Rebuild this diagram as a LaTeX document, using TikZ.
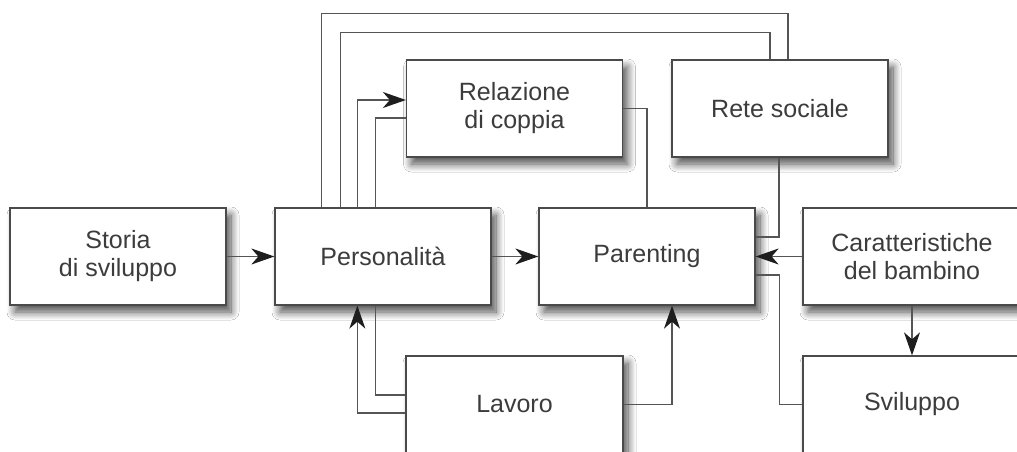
\documentclass[tikz,border=0pt]{standalone}
\usepackage{fontspec}
\setmainfont{Liberation Sans}
\usetikzlibrary{arrows.meta,shadows.blur}
\definecolor{boxline}{HTML}{4A4A4A}
\definecolor{conline}{HTML}{555555}
\definecolor{tipcol}{HTML}{1E1E1E}
\definecolor{txt}{HTML}{3C3C3C}
\begin{document}
\begin{tikzpicture}[x=1pt,y=-1pt,
  box/.style={draw=boxline,line width=1.3pt,fill=white,minimum width=216pt,minimum height=97pt,
    inner sep=0pt,align=center,text=txt,font=\fontsize{25}{28}\selectfont,
    blur shadow={shadow xshift=5pt,shadow yshift=-7pt,shadow blur steps=12,shadow opacity=70,shadow blur radius=8pt}},
  conn/.style={draw=conline,line width=1.1pt},
  arr/.style={conn,-{Stealth[length=23pt,width=16pt,inset=7pt,color=tipcol]}}]
\useasboundingbox (0,0) rectangle (1017,452);
\clip (0,0) rectangle (1017,452);
\fill[white] (0,0) rectangle (1017,452);
\node[box] (storia) at (118,256.5) {Storia\\di sviluppo};
\node[box] (pers) at (383,256.5) {Personalità};
\node[box] (rel) at (514.5,108.5) {Relazione\\di coppia};
\node[box] (rete) at (780,108.5) {Rete sociale};
\node[box] (par) at (647,256.5) {Parenting};
\node[box,minimum width=218pt] (car) at (912,256.5) {Caratteristiche\\del bambino};
\node[box,minimum width=218pt] (svil) at (912,404.5) {Sviluppo};
\node[box,minimum width=217pt] (lav) at (514.5,404.5) {Lavoro};
% top loops to Rete sociale
\draw[conn] ([xshift=47pt]pers.north west) -- ++(0,-194) -| ([xshift=8pt]rete.north);
\draw[conn] ([xshift=66pt]pers.north west) -- ++(0,-175) -| ([xshift=-10pt]rete.north);
% Personalita <-> Relazione
\draw[arr] ([xshift=83pt]pers.north west) |- ([yshift=8.5pt]rel.west);
\draw[conn] ([xshift=101pt]pers.north west) |- ([yshift=-9.5pt]rel.west);
% Relazione -> Parenting
\draw[conn] (rel.east) -| (par.north);
% Rete sociale -> Parenting
\draw[conn] ([xshift=-1pt]rete.south) |- ([yshift=19.5pt]par.east);
% Caratteristiche -> Parenting
\draw[arr] (car.west) -- (par.east);
% Parenting -> Sviluppo
\draw[conn] ([yshift=-18.5pt]par.east) -- ++(24,0) |- (svil.west);
% Caratteristiche -> Sviluppo
\draw[arr] (car.south) -- (svil.north);
% Lavoro -> Parenting
\draw[arr] (lav.east) -| ([xshift=25pt]par.south);
% Lavoro <-> Personalita
\draw[conn] ([yshift=9.5pt]lav.west) -| ([xshift=101pt]pers.south west);
\draw[arr] ([yshift=-8.5pt]lav.west) -| ([xshift=83pt]pers.south west);
% main chain
\draw[arr] (storia.east) -- (pers.west);
\draw[arr] (pers.east) -- (par.west);
\end{tikzpicture}
\end{document}
